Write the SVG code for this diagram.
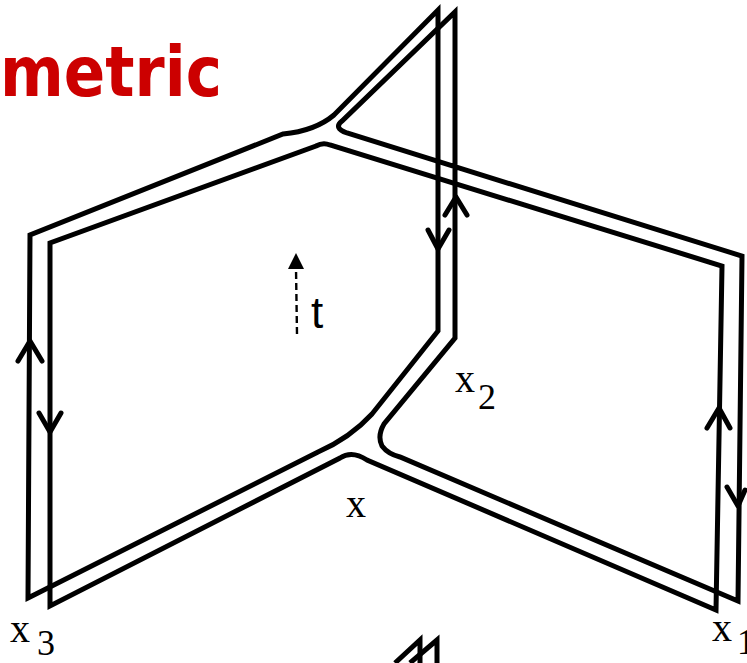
<svg xmlns="http://www.w3.org/2000/svg" width="747" height="663" viewBox="0 0 747 663">
<style>
.ln{fill:none;stroke:#000;stroke-width:5;stroke-linejoin:miter;stroke-miterlimit:6}
.ar{fill:none;stroke:#000;stroke-width:5;stroke-linecap:round;stroke-linejoin:round}
.lab{font-family:"Liberation Serif","Times New Roman",serif;fill:#000}
</style>
<rect width="747" height="663" fill="#fff"/>
<text x="0" y="96" font-family="'DejaVu Sans',sans-serif" font-weight="bold" font-size="70" fill="#cc0000" textLength="222" lengthAdjust="spacingAndGlyphs">metric</text>
<g id="sheets">
<path id="lineA" class="ln" d="M28,598 L318,452 Q350,438 372,414 L438,331 L438,10 L334,115 Q315,131 283,134 L30,235 Z"/>
<path id="lineB" class="ln" d="M50,606 L50,243 L316,146 Q323,142 330,145 L722,266 L716,610 L367,460 Q352,450 340,458 Z"/>
<path id="lineC" class="ln" d="M455,12 L455,338 L384,424 Q377,436 382,446 Q388,454 400,457 L738,601 L742,256 L347,133 Q333,128 342,121 Z"/>
<path class="ln" d="M395,663 L420,640 L420,663"/>
<path class="ln" d="M410,663 L437,640 L437,663"/>
</g>
<g id="arrows">
<path class="ar" d="M18,361 L30,341 L42,361"/>
<path class="ar" d="M39,413 L50,432 L61,413"/>
<path class="ar" d="M428,230 L438,249 L449,230"/>
<path class="ar" d="M445,215 L456,197 L467,215"/>
<path class="ar" d="M707,428 L719,408 L730,428"/>
<path class="ar" d="M727,487 L738,506 L745,490"/>
</g>
<g id="time">
<line x1="297" y1="334" x2="296" y2="268" stroke="#000" stroke-width="2.4" stroke-dasharray="7,4"/>
<polygon points="296,253 288,269 304,269" fill="#000"/>
<text x="311" y="328" font-family="'Liberation Sans',Arial,sans-serif" font-size="44">t</text>
</g>
<g id="labels">
<text class="lab" x="346" y="517" font-size="40">x</text>
<text class="lab" x="455" y="392" font-size="40">x</text>
<text class="lab" x="478" y="409" font-size="36">2</text>
<text class="lab" x="10" y="642" font-size="40">x</text>
<text class="lab" x="37" y="655" font-size="36">3</text>
<text class="lab" x="712" y="641" font-size="40">x</text>
<text class="lab" x="737" y="654" font-size="36">1</text>
</g>
</svg>
